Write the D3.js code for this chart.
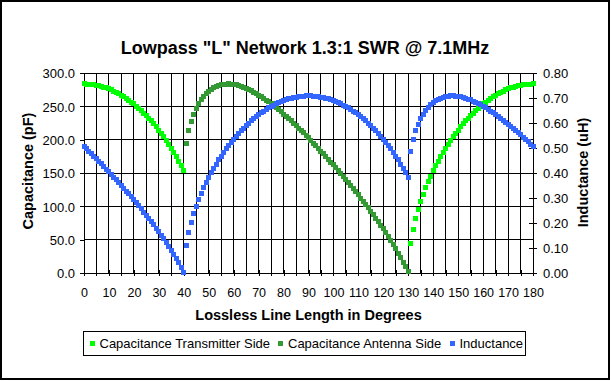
<!DOCTYPE html>
<html><head><meta charset="utf-8">
<script src="https://cdn.jsdelivr.net/npm/d3@7"></script>
<style>
body{margin:0;background:#fff}
svg{display:block}
text{font-family:"Liberation Sans",Arial,sans-serif;fill:#000}
</style>
</head><body>
<svg id="chart" width="611" height="381"></svg>
<script>
// ---- data ----
const degrees = [0,1,2,3,4,5,6,7,8,9,10,11,12,13,14,15,16,17,18,19,20,21,22,23,24,25,26,27,28,29,
30,31,32,33,34,35,36,37,38,39,40,41,42,43,44,45,46,47,48,49,50,51,52,53,54,55,56,57,58,59,
60,61,62,63,64,65,66,67,68,69,70,71,72,73,74,75,76,77,78,79,80,81,82,83,84,85,86,87,88,89,
90,91,92,93,94,95,96,97,98,99,100,101,102,103,104,105,106,107,108,109,110,111,112,113,114,115,116,117,118,119,
120,121,122,123,124,125,126,127,128,129,130,131,132,133,134,135,136,137,138,139,140,141,142,143,144,145,146,147,148,149,
150,151,152,153,154,155,156,157,158,159,160,161,162,163,164,165,166,167,168,169,170,171,172,173,174,175,176,177,178,179,180];

// Capacitance Transmitter Side (pF)
const capTx = [
283.54,283.47,283.25,282.88,282.36,281.69,280.87,279.91,278.80,277.53,
276.12,274.55,272.84,270.97,268.94,266.77,264.43,261.95,259.30,256.49,
253.52,250.39,247.10,243.63,239.99,236.18,232.19,228.01,223.65,219.09,
214.34,209.37,204.19,198.78,193.13,187.23,181.05,174.58,167.80,160.66,
153.14,null,null,null,null,null,null,null,null,null,
null,null,null,null,null,null,null,null,null,null,
null,null,null,null,null,null,null,null,null,null,
null,null,null,null,null,null,null,null,null,null,
null,null,null,null,null,null,null,null,null,null,
null,null,null,null,null,null,null,null,null,null,
null,null,null,null,null,null,null,null,null,null,
null,null,null,null,null,null,null,null,null,null,
null,null,null,null,null,null,null,null,null,null,
null,43.53,65.44,81.72,95.29,107.17,117.86,127.64,136.70,145.18,
153.14,160.66,167.80,174.58,181.05,187.23,193.13,198.78,204.19,209.37,
214.34,219.09,223.65,228.01,232.19,236.18,239.99,243.63,247.10,250.39,
253.52,256.49,259.30,261.95,264.43,266.77,268.94,270.97,272.84,274.55,
276.12,277.53,278.80,279.91,280.87,281.69,282.36,282.88,283.25,283.47,
283.54];

// Capacitance Antenna Side (pF)
const capAnt = [
null,null,null,null,null,null,null,null,null,null,
null,null,null,null,null,null,null,null,null,null,
null,null,null,null,null,null,null,null,null,null,
null,null,null,null,null,null,null,null,null,null,
null,193.91,213.75,227.50,238.15,246.78,253.92,259.91,264.94,269.16,
272.70,275.62,278.00,279.90,281.35,282.41,283.11,283.47,283.53,283.30,
282.81,282.08,281.12,279.97,278.59,277.04,275.32,273.45,271.42,269.25,
266.96,264.54,262.00,259.36,256.61,253.77,250.84,247.82,244.72,241.54,
238.30,234.98,231.60,228.16,224.65,221.10,217.48,213.82,210.10,206.34,
202.53,198.68,194.78,190.83,186.85,182.82,178.75,174.65,170.49,166.30,
162.07,157.79,153.47,149.11,144.71,140.25,135.75,131.20,126.60,121.94,
117.23,112.46,107.63,102.72,97.75,92.70,87.57,82.37,77.05,71.63,
66.11,60.47,54.69,48.77,42.69,36.43,29.98,23.30,16.36,9.14,
1.58,null,null,null,null,null,null,null,null,null,
null,null,null,null,null,null,null,null,null,null,
null,null,null,null,null,null,null,null,null,null,
null,null,null,null,null,null,null,null,null,null,
null,null,null,null,null,null,null,null,null,null,
null];

// Inductance (uH)
const inductance = [
0.506,0.497,0.487,0.477,0.467,0.457,0.447,0.437,0.426,0.416,
0.405,0.394,0.384,0.373,0.362,0.351,0.339,0.328,0.317,0.305,
0.293,0.281,0.269,0.257,0.244,0.232,0.219,0.206,0.193,0.179,
0.165,0.151,0.137,0.122,0.107,0.091,0.075,0.058,0.041,0.023,
0.004,0.109,0.164,0.204,0.238,0.268,0.295,0.319,0.342,0.363,
0.383,0.402,0.419,0.436,0.453,0.468,0.483,0.497,0.510,0.523,
0.536,0.548,0.559,0.570,0.580,0.590,0.600,0.609,0.618,0.626,
0.634,0.641,0.648,0.655,0.661,0.667,0.672,0.677,0.682,0.686,
0.690,0.694,0.697,0.700,0.702,0.704,0.706,0.707,0.708,0.709,
0.709,0.709,0.708,0.707,0.706,0.704,0.702,0.700,0.697,0.694,
0.690,0.686,0.682,0.677,0.672,0.667,0.661,0.655,0.648,0.641,
0.634,0.626,0.618,0.609,0.600,0.590,0.580,0.570,0.559,0.548,
0.536,0.523,0.510,0.497,0.483,0.468,0.453,0.436,0.419,0.402,
0.383,0.485,0.534,0.569,0.595,0.617,0.635,0.650,0.662,0.673,
0.682,0.689,0.695,0.700,0.703,0.706,0.708,0.709,0.709,0.708,
0.707,0.705,0.703,0.700,0.696,0.693,0.688,0.684,0.679,0.673,
0.667,0.661,0.655,0.648,0.642,0.634,0.627,0.620,0.612,0.604,
0.596,0.587,0.579,0.570,0.562,0.553,0.544,0.535,0.525,0.516,
0.506];

const seriesNames = ["Capacitance Transmitter Side","Capacitance Antenna Side","Inductance"];
const seriesColors = ["#00ff00","#339933","#3366ff"];

const capTicks = [0,50,100,150,200,250,300];
const indTicks = [0,0.1,0.2,0.3,0.4,0.5,0.6,0.7,0.8];
const degTicks = [0,10,20,30,40,50,60,70,80,90,100,110,120,130,140,150,160,170,180];
const degMinor = [0,5,10,15,20,25,30,35,40,45,50,55,60,65,70,75,80,85,90,95,100,105,110,115,120,125,130,135,140,145,150,155,160,165,170,175,180];

const titleText = 'Lowpass "L" Network 1.3:1 SWR @ 7.1MHz';
const xTitle = "Lossless Line Length in Degrees";
const yLeftTitle = "Capacitance (pF)";
const yRightTitle = "Inductance (uH)";

// ---- layout ----
const W = 611, H = 381;
const P = {left:84, right:533, top:73, bottom:273};
const svg = d3.select("#chart");

svg.append("rect").attr("x",0).attr("y",0).attr("width",W).attr("height",H).attr("fill","#fff");
svg.append("rect").attr("x",1).attr("y",1).attr("width",608).attr("height",378)
  .attr("fill","none").attr("stroke","#000").attr("stroke-width",2);

const x = d3.scaleLinear().domain([0,180]).range([P.left,P.right]);
const yL = d3.scaleLinear().domain([0,300]).range([P.bottom,P.top]);
const yR = d3.scaleLinear().domain([0,0.8]).range([P.bottom,P.top]);

// gridlines
const grid = svg.append("g").attr("shape-rendering","crispEdges").attr("stroke","#000").attr("stroke-width",1);
grid.selectAll("line.v").data(degMinor).join("line")
  .attr("x1",d=>x(d)).attr("x2",d=>x(d)).attr("y1",P.top).attr("y2",P.bottom);
grid.selectAll("line.h").data(capTicks).join("line").attr("class","h")
  .attr("x1",P.left).attr("x2",P.right).attr("y1",d=>yL(d)).attr("y2",d=>yL(d));

// axes
const fmtCap = d3.format(".1f"), fmtInd = d3.format(".2f");
const gx = svg.append("g").attr("transform",`translate(0,${P.bottom})`)
  .call(d3.axisBottom(x).tickValues(degMinor).tickSize(3).tickSizeOuter(0)
    .tickFormat(d => degTicks.includes(d) ? String(d) : ""));
gx.selectAll(".tick line").attr("y1",-3);
gx.selectAll(".tick text").attr("y",24).attr("dy",null).style("font-size","12.5px");

const gl = svg.append("g").attr("transform",`translate(${P.left},0)`)
  .call(d3.axisLeft(yL).tickValues(capTicks).tickSize(4).tickPadding(5).tickSizeOuter(0).tickFormat(fmtCap));
gl.selectAll(".tick text").attr("dy","0.38em").style("font-size","13px");

const gr = svg.append("g").attr("transform",`translate(${P.right},0)`)
  .call(d3.axisRight(yR).tickValues(indTicks).tickSize(4).tickPadding(6).tickSizeOuter(0).tickFormat(fmtInd));
gr.selectAll(".tick line").attr("x1",-4);
gr.selectAll(".tick text").attr("dy","0.38em").style("font-size","13px");

[gx,gl,gr].forEach(g=>{
  g.attr("shape-rendering","crispEdges");
  g.selectAll("path.domain").attr("stroke","#000");
  g.selectAll(".tick line").attr("stroke","#000");
  g.selectAll("text").attr("fill","#000").style("font-family",'"Liberation Sans",Arial,sans-serif');
});

// series markers
const seriesData = [capTx, capAnt, inductance];
const scales = [yL, yL, yR];
const M = 5;
seriesData.forEach((vals,i)=>{
  const pts = degrees.map((d,j)=>({d, v: vals[j]})).filter(p=>p.v!==null);
  svg.append("g").attr("shape-rendering","crispEdges").selectAll("rect").data(pts).join("rect")
    .attr("x",p=>x(p.d)-M/2).attr("y",p=>scales[i](p.v)-M/2)
    .attr("width",M).attr("height",M).attr("fill",seriesColors[i]);
});

// titles
svg.append("text").attr("x",305).attr("y",54).attr("text-anchor","middle")
  .style("font-size","18px").style("font-weight","bold").text(titleText);
svg.append("text").attr("x",308.5).attr("y",320).attr("text-anchor","middle")
  .style("font-size","14.5px").style("font-weight","bold").text(xTitle);
svg.append("text").attr("transform","translate(33,171) rotate(-90)").attr("text-anchor","middle")
  .style("font-size","14.5px").style("font-weight","bold").text(yLeftTitle);
svg.append("text").attr("transform","translate(588,172.5) rotate(-90)").attr("text-anchor","middle")
  .style("font-size","14.5px").style("font-weight","bold").text(yRightTitle);

// legend
const legend = svg.append("g");
legend.append("rect").attr("x",83.5).attr("y",331.5).attr("width",442).attr("height",23.5)
  .attr("fill","#fff").attr("stroke","#000").attr("stroke-width",1).attr("shape-rendering","crispEdges");
const legX = [89.5, 278, 449.5];
seriesNames.forEach((n,i)=>{
  legend.append("rect").attr("x",legX[i]).attr("y",341).attr("width",5).attr("height",5)
    .attr("fill",seriesColors[i]).attr("shape-rendering","crispEdges");
  legend.append("text").attr("x",legX[i]+10).attr("y",348).style("font-size","13px").text(n);
});
</script>
</body></html>
